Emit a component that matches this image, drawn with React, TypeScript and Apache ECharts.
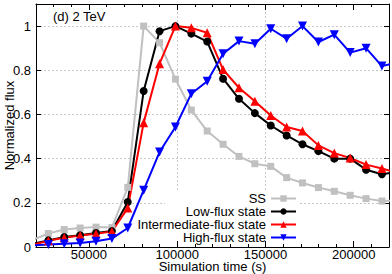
import React, { useEffect, useRef } from "react";
import * as echarts from "echarts";

const timeValues = [18000, 27000, 36000, 45000, 54000, 63000, 72000, 81000, 90000, 99000, 108000, 117000, 126000, 135000, 144000, 153000, 162000, 171000, 180000, 189000, 198000, 207000, 216000, 225000];
const ssValues = [0.032, 0.061, 0.079, 0.086, 0.09, 0.088, 0.27, 1.0, 0.925, 0.76, 0.62, 0.525, 0.465, 0.41, 0.377, 0.365, 0.314, 0.29, 0.269, 0.252, 0.234, 0.219, 0.208, 0.21];
const lowValues = [0.015, 0.03, 0.045, 0.053, 0.063, 0.072, 0.204, 0.706, 0.977, 1.0, 0.966, 0.93, 0.762, 0.671, 0.606, 0.55, 0.505, 0.465, 0.434, 0.4, 0.4, 0.35, 0.329, 0.34];
const midValues = [0.01, 0.028, 0.042, 0.052, 0.06, 0.07, 0.176, 0.563, 0.83, 1.0, 0.992, 0.97, 0.803, 0.721, 0.66, 0.595, 0.543, 0.525, 0.46, 0.425, 0.403, 0.373, 0.355, 0.335];
const highValues = [0.007, 0.011, 0.015, 0.018, 0.026, 0.038, 0.086, 0.257, 0.43, 0.543, 0.694, 0.75, 0.875, 0.932, 0.92, 0.988, 0.943, 1.0, 0.928, 0.961, 0.88, 0.9, 0.819, 0.835];
const xTickValues = [50000, 100000, 150000, 200000];
const seriesNames = ["SS", "Low-flux state", "Intermediate-flux state", "High-flux state"];
const panelTitle = "(d) 2 TeV";

const FONT = "Liberation Sans, Arial, sans-serif";

function pairs(ys: number[]) {
  return timeValues.map((x, i) => [x, ys[i]]);
}

export default function App() {
  const ref = useRef<HTMLDivElement>(null);
  useEffect(() => {
    if (!ref.current) return;
    const chart = echarts.init(ref.current, null, { renderer: "svg" });
    const grid = "#c8c8c8";
    const majorX = (pos: string, labels: boolean, split: boolean, z: number) => ({
      type: "value",
      position: pos,
      min: 20000,
      max: 220000,
      z,
      axisLine: { show: true, onZero: false, lineStyle: { color: "#000", width: 1 } },
      axisTick: { show: true, inside: true, length: 6, customValues: xTickValues, lineStyle: { color: "#000" } },
      axisLabel: {
        show: labels,
        customValues: xTickValues,
        formatter: (v: number) => String(v),
        color: "#000",
        fontSize: 13,
        fontFamily: FONT,
        margin: 1,
        lineHeight: 13,
      },
      splitLine: { show: split, showMinLine: false, showMaxLine: false, lineStyle: { color: grid, type: [2, 2], width: 1 } },
      name: labels ? "Simulation time (s)" : "",
      nameLocation: "middle",
      nameGap: 13,
      nameMoveOverlap: false,
      nameTextStyle: { color: "#000", fontSize: 13, fontFamily: FONT, lineHeight: 13 },
    });
    const minorX = (pos: string, z: number) => ({
      type: "value",
      position: pos,
      min: 20000,
      max: 220000,
      interval: 10000,
      z,
      axisLine: { show: false, onZero: false },
      axisTick: { show: true, inside: true, length: 3, lineStyle: { color: "#000" } },
      axisLabel: { show: false },
      splitLine: { show: false },
    });
    const yAx = (pos: string, main: boolean) => ({
      type: "value",
      position: pos,
      min: 0,
      max: 1.1,
      interval: 0.2,
      axisLine: { show: true, onZero: false, lineStyle: { color: "#000", width: 1 } },
      axisTick: { show: true, inside: true, length: 5, lineStyle: { color: "#000" } },
      axisLabel: {
        show: main,
        color: "#000",
        fontSize: 13,
        fontFamily: FONT,
        margin: 5,
        showMaxLabel: false,
      },
      splitLine: { show: main, showMinLine: false, showMaxLine: false, lineStyle: { color: grid, type: [2, 2], width: 1 } },
      name: main ? "Normalized flux" : "",
      nameLocation: "middle",
      nameGap: 20,
      nameMoveOverlap: false,
      nameTextStyle: { color: "#000", fontSize: 13, fontFamily: FONT, lineHeight: 13 },
    });
    const mk = (name: string, ys: number[], color: string, symbol: string, size: number, rotate = 0) => ({
      type: "line",
      name,
      data: pairs(ys),
      xAxisIndex: 0,
      yAxisIndex: 0,
      symbol,
      symbolSize: size,
      symbolRotate: rotate,
      showAllSymbol: true,
      clip: true,
      lineStyle: { color, width: 2 },
      itemStyle: { color, borderWidth: 0 },
      z: 3,
    });
    chart.setOption({
      animation: false,
      grid: { left: 36, right: 3, top: 4, bottom: 27, containLabel: false, outerBoundsMode: "none" },
      legend: {
        data: seriesNames,
        orient: "vertical",
        align: "right",
        right: 95,
        top: 192,
        padding: 0,
        itemGap: 0,
        itemWidth: 25,
        itemHeight: 8,
        textStyle: { color: "#000", fontSize: 13, fontFamily: FONT, lineHeight: 12.7 },
        z: 5,
      },
      graphic: [
        { type: "rect", shape: { x: 165, y: 190, width: 135, height: 56 }, style: { fill: "#fff" }, z: 1, silent: true },
        {
          type: "text",
          x: 53,
          y: 16,
          z: 5,
          silent: true,
          style: { text: panelTitle, fill: "#000", fontSize: 13, fontFamily: FONT, verticalAlign: "middle", align: "left" },
        },
      ],
      xAxis: [majorX("bottom", true, false, 2), minorX("bottom", 2), majorX("top", false, true, 0), minorX("top", 0)],
      yAxis: [yAx("left", true), yAx("right", false)],
      series: [
        mk(seriesNames[0], ssValues, "#c0c0c0", "rect", 7),
        mk(seriesNames[1], lowValues, "#000000", "circle", 8),
        mk(seriesNames[2], midValues, "#ff0000", "triangle", 9),
        mk(seriesNames[3], highValues, "#0000ff", "triangle", 9, 180),
      ],
    });
    return () => chart.dispose();
  }, []);
  return <div ref={ref} style={{ position: "absolute", left: 0, top: 0, width: 392, height: 274 }} />;
}
